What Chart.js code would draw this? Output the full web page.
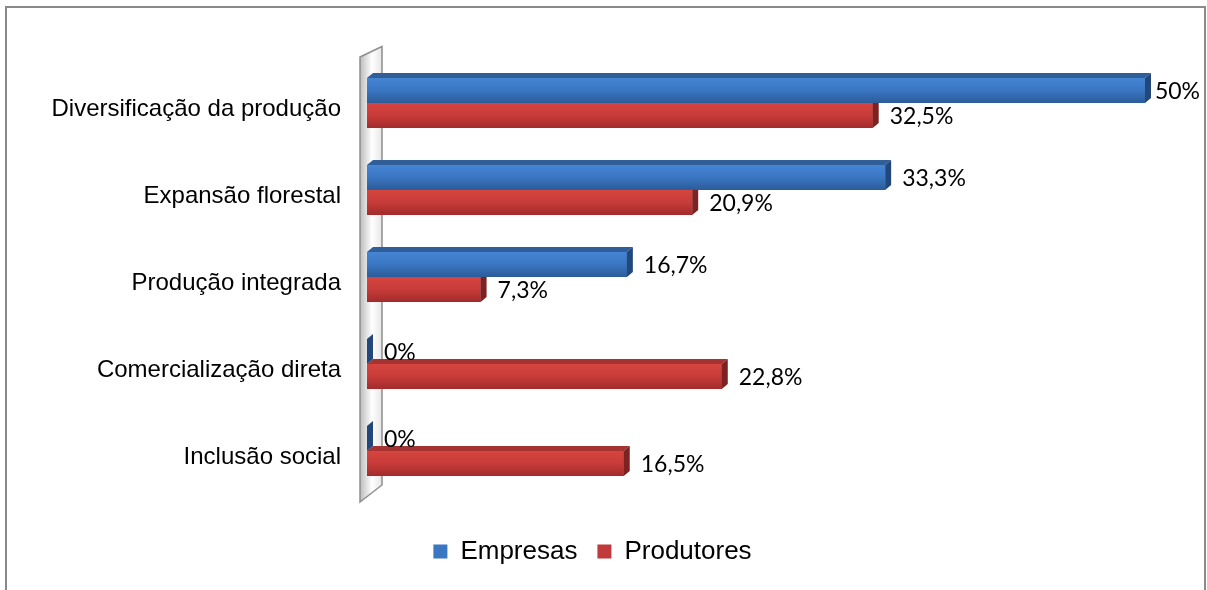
<!DOCTYPE html>
<html lang="pt">
<head>
  <meta charset="UTF-8">
  <title>Empresas x Produtores</title>
  <style>
    body { margin: 0; background: #fff; }
  </style>
</head>
<body>
  <canvas id="grafico" width="1207" height="590"></canvas>
  <script src="https://cdn.jsdelivr.net/npm/chart.js"></script>
  <script>
    // dados
    const categorias = [
      "Diversificação da produção",
      "Expansão florestal",
      "Produção integrada",
      "Comercialização direta",
      "Inclusão social"
    ];
    const series = ["Empresas", "Produtores"];
    const empresas = [50, 33.3, 16.7, 0, 0];
    const produtores = [32.5, 20.9, 7.3, 22.8, 16.5];
    const escalaMin = 0;
    const escalaMax = 50;

    // cores das barras: frente (gradiente), topo e lateral
    const cores = [
      { frente: ["#4685d4", "#3a76c2", "#2c5b98"], topo: "#2f5e98", lado: "#22477a", base: "#3a76c2" },
      { frente: ["#d6453f", "#c73b39", "#a12c2b"], topo: "#a53331", lado: "#7c2222", base: "#c0393b" }
    ];
    const DX = 6, DY = 5;

    function rotulo(v) {
      return String(v).replace(".", ",") + "%";
    }

    // moldura externa
    const moldura = {
      id: "moldura",
      beforeDraw(chart) {
        const ctx = chart.ctx;
        ctx.save();
        ctx.fillStyle = "#fff";
        ctx.fillRect(0, 0, chart.width, chart.height);
        ctx.strokeStyle = "#8a8a8a";
        ctx.lineWidth = 2;
        ctx.strokeRect(6, 7, 1199, 700);
        ctx.restore();
      }
    };

    // parede 3D do lado esquerdo
    const parede = {
      id: "parede",
      beforeDatasetsDraw(chart) {
        const { ctx, chartArea: a } = chart;
        const l = a.left - 7, r = a.left + 15;
        ctx.save();
        const g = ctx.createLinearGradient(l, 0, r, 0);
        g.addColorStop(0, "#bdbdbd");
        g.addColorStop(0.55, "#ffffff");
        g.addColorStop(1, "#e6e6e6");
        ctx.beginPath();
        ctx.moveTo(l, a.top - 2.5);
        ctx.lineTo(r, a.top - 13);
        ctx.lineTo(r, a.bottom - 9.5);
        ctx.lineTo(l, a.bottom + 7.5);
        ctx.closePath();
        ctx.fillStyle = g;
        ctx.fill();
        ctx.strokeStyle = "#8f8f8f";
        ctx.lineWidth = 1.5;
        ctx.stroke();
        ctx.restore();
      }
    };

    // faces 3D das barras + rotulos de valor
    const barras3d = {
      id: "barras3d",
      afterDatasetsDraw(chart) {
        const ctx = chart.ctx;
        ctx.save();
        [1, 0].forEach(di => {
          const meta = chart.getDatasetMeta(di);
          const c = cores[di];
          meta.data.forEach(el => {
            const p = el.getProps(["x", "y", "base", "height"], true);
            const top = p.y - p.height / 2, bot = p.y + p.height / 2;
            const g = ctx.createLinearGradient(0, top, 0, bot);
            g.addColorStop(0, c.frente[0]);
            g.addColorStop(0.5, c.frente[1]);
            g.addColorStop(1, c.frente[2]);
            ctx.fillStyle = g;
            ctx.fillRect(p.base, top, p.x - p.base, p.height);
            // topo
            ctx.beginPath();
            ctx.moveTo(p.base, top);
            ctx.lineTo(p.base + DX, top - DY);
            ctx.lineTo(p.x + DX, top - DY);
            ctx.lineTo(p.x, top);
            ctx.closePath();
            ctx.fillStyle = c.topo;
            ctx.fill();
            // lateral
            ctx.beginPath();
            ctx.moveTo(p.x, top);
            ctx.lineTo(p.x + DX, top - DY);
            ctx.lineTo(p.x + DX, bot - DY);
            ctx.lineTo(p.x, bot);
            ctx.closePath();
            ctx.fillStyle = c.lado;
            ctx.fill();
          });
        });
        ctx.font = "23px Lato";
        ctx.fillStyle = "#000";
        ctx.textBaseline = "middle";
        ctx.textAlign = "left";
        chart.data.datasets.forEach((ds, di) => {
          chart.getDatasetMeta(di).data.forEach((el, i) => {
            const p = el.getProps(["x", "y"], true);
            const txt = rotulo(ds.data[i]);
            const w = ctx.measureText(txt).width;
            const x = Math.min(p.x + 17, 1200 - w);
            ctx.fillText(txt, x, p.y + 1.5);
          });
        });
        ctx.restore();
      }
    };

    // desce a legenda
    const legendaPos = {
      id: "legendaPos",
      afterLayout(chart) {
        chart.legend.top += 24;
        chart.legend.bottom += 24;
      }
    };

    document.addEventListener("DOMContentLoaded", () => {
      const lienzo = document.getElementById("grafico");
      new Chart(lienzo, {
        type: "bar",
        data: {
          labels: categorias,
          datasets: [
            { label: series[0], data: empresas, backgroundColor: cores[0].base },
            { label: series[1], data: produtores, backgroundColor: cores[1].base }
          ]
        },
        options: {
          indexAxis: "y",
          responsive: false,
          animation: false,
          categoryPercentage: 0.575,
          barPercentage: 1,
          layout: { padding: { top: 59.5, bottom: 39.5, left: 40, right: 62 } },
          scales: {
            x: { display: false, min: escalaMin, max: escalaMax },
            y: {
              grid: { display: false, drawTicks: false },
              border: { display: false },
              ticks: {
                color: "#000",
                padding: 26,
                labelOffset: 6,
                font: { family: "Liberation Sans", size: 24 }
              },
              afterFit(scale) { scale.width = 327; }
            }
          },
          plugins: {
            tooltip: { enabled: false },
            legend: {
              position: "bottom",
              labels: {
                color: "#000",
                boxWidth: 14,
                boxHeight: 14,
                padding: 20,
                font: { family: "Liberation Sans", size: 26 }
              }
            }
          }
        },
        plugins: [moldura, parede, barras3d, legendaPos]
      });
    });
  </script>
</body>
</html>
